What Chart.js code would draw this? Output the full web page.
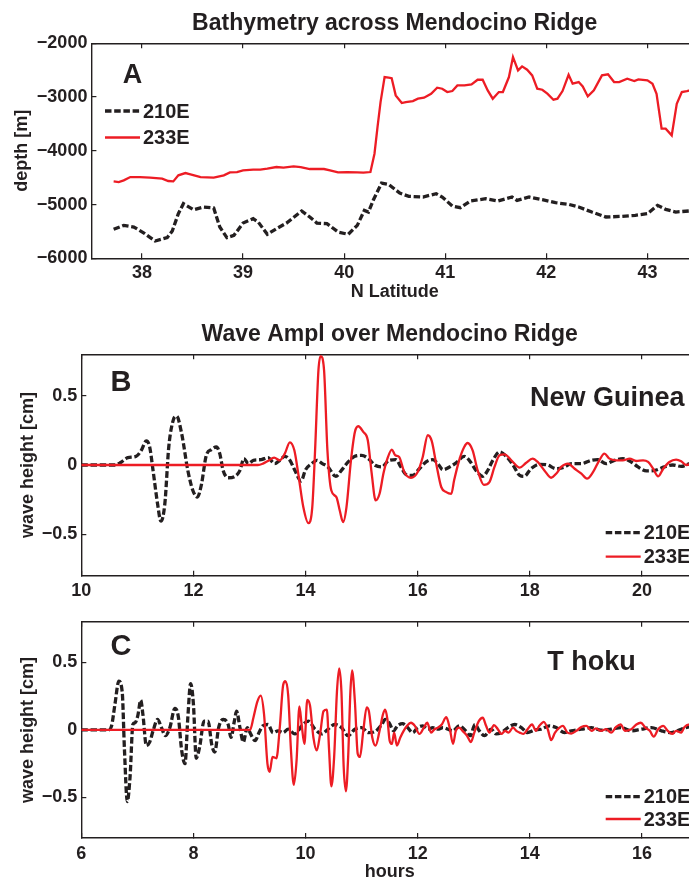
<!DOCTYPE html>
<html>
<head>
<meta charset="utf-8">
<script src="https://cdn.jsdelivr.net/npm/chart.js@4.4.1/dist/chart.umd.min.js"></script>
<style>
  html, body { margin: 0; padding: 0; background: #fff; overflow: hidden; width: 689px; height: 878px; }
  canvas { position: absolute; left: 0; }
</style>
</head>
<body>
<canvas id="chartA" width="700" height="305" style="top:0"></canvas>
<canvas id="chartB" width="700" height="297" style="top:305px"></canvas>
<canvas id="chartC" width="700" height="290" style="top:602px"></canvas>
<script>
// ---- panel A : bathymetry across the ridge ----
const latA210 = [37.72, 37.82, 37.92, 38.02, 38.13, 38.25, 38.30, 38.36, 38.41, 38.51, 38.61, 38.71, 38.77, 38.84, 38.91, 39.00, 39.10, 39.15, 39.24, 39.33, 39.43, 39.58, 39.66, 39.73, 39.83, 39.94, 40.04, 40.13, 40.20, 40.24, 40.29, 40.37, 40.44, 40.55, 40.64, 40.78, 40.91, 40.97, 41.07, 41.15, 41.25, 41.40, 41.52, 41.66, 41.71, 41.83, 41.96, 42.09, 42.22, 42.32, 42.45, 42.59, 42.75, 42.88, 43.00, 43.10, 43.18, 43.28, 43.41, 43.52];
const depthA210 = [-5461, -5387, -5418, -5530, -5678, -5616, -5492, -5170, -4984, -5096, -5046, -5065, -5418, -5616, -5573, -5344, -5263, -5325, -5554, -5449, -5344, -5120, -5232, -5344, -5356, -5511, -5554, -5387, -5108, -5139, -4910, -4600, -4625, -4786, -4848, -4860, -4798, -4860, -5027, -5058, -4934, -4891, -4934, -4860, -4922, -4860, -4910, -4965, -4996, -5046, -5139, -5232, -5220, -5201, -5170, -5015, -5089, -5139, -5120, -5110];
const latA233 = [37.72, 37.77, 37.82, 37.885, 37.98, 38.08, 38.20, 38.26, 38.31, 38.36, 38.43, 38.48, 38.58, 38.71, 38.81, 38.87, 38.94, 39.00, 39.10, 39.17, 39.24, 39.33, 39.40, 39.50, 39.57, 39.66, 39.80, 39.86, 39.94, 40.03, 40.13, 40.19, 40.26, 40.30, 40.33, 40.36, 40.40, 40.44, 40.47, 40.51, 40.57, 40.61, 40.68, 40.73, 40.79, 40.86, 40.92, 40.97, 41.02, 41.07, 41.12, 41.19, 41.26, 41.32, 41.37, 41.42, 41.47, 41.53, 41.57, 41.63, 41.67, 41.72, 41.76, 41.81, 41.86, 41.91, 41.96, 42.01, 42.07, 42.11, 42.16, 42.22, 42.26, 42.32, 42.36, 42.41, 42.47, 42.55, 42.61, 42.67, 42.72, 42.80, 42.87, 42.91, 43.00, 43.05, 43.09, 43.14, 43.18, 43.24, 43.29, 43.34, 43.39, 43.45, 43.52];
const depthA233 = [-4569, -4581, -4550, -4488, -4488, -4500, -4519, -4562, -4569, -4457, -4414, -4438, -4488, -4500, -4457, -4401, -4395, -4364, -4352, -4352, -4333, -4302, -4314, -4290, -4302, -4339, -4339, -4364, -4401, -4395, -4401, -4407, -4395, -4054, -3558, -3093, -2628, -2640, -2650, -2969, -3112, -3093, -3074, -3031, -3012, -2938, -2826, -2845, -2907, -2888, -2783, -2783, -2764, -2678, -2678, -2876, -3031, -2907, -2907, -2628, -2256, -2504, -2430, -2492, -2597, -2845, -2864, -2938, -3050, -3031, -2888, -2585, -2752, -2721, -2802, -2988, -2876, -2597, -2578, -2721, -2721, -2659, -2702, -2671, -2690, -2752, -2938, -3589, -3589, -3713, -3124, -2907, -2888, -2860, -2850];
const latTicks = [38, 39, 40, 41, 42, 43];
const depthTicks = [-6000, -5000, -4000, -3000, -2000];

// ---- panel B : New Guinea source ----
const hoursB210 = [10.0, 10.60, 10.71, 10.83, 10.98, 11.07, 11.16, 11.22, 11.28, 11.36, 11.42, 11.49, 11.56, 11.64, 11.70, 11.79, 11.90, 11.99, 12.07, 12.14, 12.23, 12.32, 12.41, 12.47, 12.53, 12.62, 12.74, 12.83, 12.90, 12.98, 13.07, 13.21, 13.33, 13.45, 13.54, 13.63, 13.72, 13.81, 13.92, 14.00, 14.11, 14.20, 14.30, 14.40, 14.54, 14.64, 14.76, 14.88, 15.00, 15.12, 15.24, 15.36, 15.49, 15.61, 15.70, 15.79, 15.91, 16.03, 16.15, 16.27, 16.36, 16.45, 16.57, 16.68, 16.83, 16.92, 17.04, 17.16, 17.25, 17.34, 17.46, 17.58, 17.70, 17.82, 17.90, 18.02, 18.17, 18.32, 18.47, 18.62, 18.74, 18.92, 19.10, 19.21, 19.36, 19.51, 19.66, 19.81, 19.93, 20.08, 20.23, 20.40, 20.55, 20.70, 20.85, 21.0];
const ampB210 = [0, 0, 0.02, 0.053, 0.063, 0.106, 0.174, 0.13, -0.04, -0.28, -0.406, -0.28, 0.13, 0.324, 0.353, 0.227, -0.039, -0.184, -0.232, -0.147, 0.07, 0.111, 0.13, 0.082, -0.039, -0.092, -0.082, -0.039, 0.046, 0.01, 0.034, 0.039, 0.053, 0.01, 0.034, 0.063, 0.034, -0.039, -0.116, -0.034, 0.01, 0.034, 0.01, -0.014, -0.082, -0.039, 0.022, 0.063, 0.07, 0.046, -0.002, -0.014, 0.034, 0.039, -0.014, -0.068, -0.075, -0.027, 0.022, 0.039, 0.01, -0.034, -0.014, 0.014, 0.063, 0.034, -0.039, -0.082, -0.039, 0.034, 0.094, 0.063, 0, -0.075, -0.082, -0.027, 0.005, 0, -0.027, -0.014, 0.01, 0.01, 0.034, 0.039, 0.01, 0.034, 0.046, 0.022, -0.014, -0.043, -0.039, -0.014, 0, -0.01, 0.01, 0.02];
const hoursB233 = [10.0, 13.15, 13.24, 13.33, 13.44, 13.54, 13.63, 13.72, 13.80, 13.87, 13.96, 14.05, 14.12, 14.17, 14.23, 14.27, 14.33, 14.39, 14.46, 14.55, 14.61, 14.67, 14.73, 14.81, 14.88, 14.94, 15.03, 15.11, 15.18, 15.25, 15.32, 15.39, 15.46, 15.54, 15.60, 15.67, 15.76, 15.88, 16.00, 16.09, 16.18, 16.25, 16.33, 16.42, 16.51, 16.60, 16.65, 16.74, 16.83, 16.89, 16.98, 17.07, 17.18, 17.28, 17.37, 17.46, 17.55, 17.67, 17.82, 17.93, 18.05, 18.14, 18.26, 18.38, 18.47, 18.56, 18.68, 18.80, 18.92, 19.02, 19.13, 19.24, 19.33, 19.42, 19.54, 19.66, 19.78, 19.90, 20.02, 20.11, 20.20, 20.29, 20.38, 20.49, 20.61, 20.70, 20.79, 20.90, 21.0];
const ampB233 = [0, 0, 0.01, 0.029, 0.053, 0.034, 0.082, 0.164, 0.106, -0.063, -0.304, -0.42, -0.304, 0.106, 0.686, 0.787, 0.686, 0.106, -0.184, -0.232, -0.329, -0.413, -0.304, 0.034, 0.239, 0.28, 0.239, 0.179, -0.063, -0.256, -0.208, -0.06, 0.046, 0.111, 0.07, 0.058, -0.05, -0.092, -0.05, 0.058, 0.215, 0.174, 0.01, -0.159, -0.196, -0.208, -0.111, 0.034, 0.13, 0.159, 0.106, -0.039, -0.143, -0.123, -0.014, 0.07, 0.077, 0.034, -0.019, 0.014, 0.046, 0.022, -0.039, -0.092, -0.063, -0.014, 0.01, -0.027, -0.063, -0.099, -0.05, 0.034, 0.082, 0.046, 0.034, 0.034, 0.046, 0.029, 0.034, 0.022, -0.027, -0.082, -0.027, 0.022, 0.039, 0.027, 0, 0.01, 0.02];
const hourTicksB = [10, 12, 14, 16, 18, 20];

// ---- panel C : Tohoku source ----
const hoursC210 = [6.0, 6.48, 6.54, 6.60, 6.67, 6.73, 6.77, 6.82, 6.87, 6.92, 6.96, 7.01, 7.06, 7.10, 7.16, 7.22, 7.28, 7.36, 7.43, 7.50, 7.58, 7.67, 7.73, 7.79, 7.85, 7.90, 7.95, 8.00, 8.05, 8.11, 8.19, 8.26, 8.33, 8.38, 8.45, 8.53, 8.62, 8.67, 8.73, 8.77, 8.83, 8.89, 8.96, 9.02, 9.10, 9.17, 9.24, 9.33, 9.42, 9.51, 9.60, 9.69, 9.81, 9.93, 10.05, 10.17, 10.29, 10.40, 10.52, 10.64, 10.76, 10.88, 11.00, 11.12, 11.24, 11.36, 11.42, 11.49, 11.57, 11.64, 11.73, 11.82, 11.91, 12.00, 12.09, 12.18, 12.27, 12.36, 12.45, 12.54, 12.63, 12.74, 12.86, 12.94, 13.02, 13.10, 13.19, 13.31, 13.40, 13.49, 13.61, 13.73, 13.85, 13.96, 14.08, 14.20, 14.35, 14.47, 14.62, 14.74, 14.92, 15.10, 15.27, 15.45, 15.63, 15.81, 15.99, 16.17, 16.35, 16.52, 16.70, 16.85, 17.0];
const ampC210 = [0, 0, 0.03, 0.19, 0.36, 0.28, -0.15, -0.53, -0.345, 0.04, 0.053, 0.11, 0.22, 0.11, -0.116, -0.09, -0.007, 0.077, 0.017, -0.043, 0.017, 0.16, 0.1, -0.15, -0.25, 0.09, 0.343, 0.19, -0.21, -0.128, 0.065, 0.065, -0.116, -0.164, 0.017, 0.077, 0.04, -0.056, 0.065, 0.138, 0.017, -0.09, 0.017, -0.03, -0.08, -0.02, 0.03, 0.04, -0.02, -0.007, -0.02, 0.005, -0.03, 0.03, 0.065, 0.005, -0.03, 0.005, 0.04, 0.017, -0.043, 0.005, 0.017, -0.02, -0.012, 0.04, 0.077, 0.053, -0.007, 0.03, 0.046, 0.017, -0.02, 0.017, 0.03, 0.005, 0.017, 0.005, 0.017, 0.005, -0.007, 0.03, -0.007, -0.043, 0.04, -0.007, -0.043, 0.005, -0.03, -0.02, 0.017, 0.04, 0.017, -0.02, -0.002, 0.005, 0.03, 0.017, -0.02, -0.007, 0.005, 0.017, -0.002, 0.005, 0.017, -0.007, 0.005, 0.017, -0.007, -0.02, 0.005, 0.022, 0.01];
const hoursC233 = [6.0, 9.01, 9.07, 9.14, 9.20, 9.26, 9.32, 9.36, 9.41, 9.48, 9.54, 9.60, 9.64, 9.69, 9.74, 9.79, 9.84, 9.89, 9.93, 9.98, 10.03, 10.08, 10.14, 10.20, 10.26, 10.32, 10.38, 10.42, 10.46, 10.51, 10.56, 10.60, 10.64, 10.68, 10.72, 10.76, 10.80, 10.83, 10.88, 10.93, 10.97, 11.03, 11.09, 11.13, 11.19, 11.25, 11.32, 11.38, 11.42, 11.46, 11.50, 11.54, 11.58, 11.63, 11.69, 11.75, 11.81, 11.88, 11.95, 12.03, 12.11, 12.17, 12.24, 12.30, 12.36, 12.43, 12.51, 12.57, 12.63, 12.68, 12.74, 12.80, 12.88, 12.95, 13.01, 13.09, 13.16, 13.22, 13.28, 13.36, 13.43, 13.49, 13.56, 13.62, 13.70, 13.76, 13.82, 13.89, 13.96, 14.04, 14.11, 14.17, 14.25, 14.32, 14.38, 14.45, 14.53, 14.59, 14.67, 14.74, 14.83, 14.92, 15.01, 15.10, 15.18, 15.27, 15.36, 15.45, 15.54, 15.62, 15.70, 15.81, 15.90, 15.98, 16.06, 16.14, 16.21, 16.29, 16.38, 16.46, 16.54, 16.61, 16.70, 16.76, 16.85, 17.0];
const ampC233 = [0, 0, 0.09, 0.21, 0.254, 0.114, -0.25, -0.31, -0.2, -0.21, 0.017, 0.33, 0.36, 0.258, -0.152, -0.406, -0.225, 0.174, 0.04, -0.104, 0.222, 0.18, -0.056, -0.152, -0.03, 0.138, 0.15, -0.152, -0.418, -0.2, 0.283, 0.456, 0.283, -0.273, -0.454, -0.2, 0.283, 0.44, 0.21, -0.176, -0.2, -0.007, 0.167, 0.138, -0.056, -0.116, -0.007, 0.114, 0.15, 0.08, -0.08, -0.104, -0.02, -0.116, -0.056, -0.007, 0.03, 0.053, 0.03, -0.03, 0.017, 0.053, -0.02, 0.005, 0.017, 0.04, 0.094, 0.017, -0.104, -0.007, 0.017, -0.007, -0.043, -0.09, -0.02, 0.065, 0.09, 0.03, -0.02, 0.036, 0.005, -0.03, -0.007, -0.02, 0.017, -0.007, -0.02, -0.03, 0.005, 0.04, -0.007, 0.03, 0.06, 0.005, -0.075, -0.02, 0.017, 0.03, -0.02, -0.027, -0.007, 0.022, 0.03, -0.007, 0.012, -0.007, 0.005, -0.02, 0.022, 0.04, -0.007, 0.005, 0.04, 0.053, 0.017, -0.007, -0.05, 0.005, 0.03, -0.007, -0.03, -0.007, -0.02, 0.022, 0.04, 0.03];
const hourTicksC = [6, 8, 10, 12, 14, 16];
const ampTicks = [-0.5, 0, 0.5];

const seriesNames = ['210E', '233E'];

const INK = '#231f20';
const RED = '#ed1c24';
const FONT = '"Liberation Sans", Arial, Helvetica, sans-serif';

Chart.defaults.font.family = FONT;
Chart.defaults.font.weight = 'bold';
Chart.defaults.color = INK;
Chart.defaults.animation = false;

const pts = (xs, ys) => xs.map((x, i) => ({ x: x, y: ys[i] }));
const minusSign = v => String(v).replace('-', '\u2212');
const fixTicks = values => scale => { scale.ticks = values.map(v => ({ value: v })); };

function blackLine(xs, ys, smooth) {
  return { label: seriesNames[0], data: pts(xs, ys), borderColor: INK, borderWidth: 3.3,
    borderDash: [6.5, 2.7], pointRadius: 0, order: 1,
    cubicInterpolationMode: smooth ? 'monotone' : 'default' };
}
function redLine(xs, ys, smooth) {
  return { label: seriesNames[1], data: pts(xs, ys), borderColor: RED, borderWidth: 2.3,
    pointRadius: 0, order: 0,
    cubicInterpolationMode: smooth ? 'monotone' : 'default' };
}

// matlab style box: inward ticks on bottom, top and left
function boxScales(c) {
  const grid = { drawOnChartArea: false, tickLength: -5, color: INK, lineWidth: 1.2 };
  const border = { color: INK, width: 1.4 };
  return {
    x: {
      type: 'linear', position: 'bottom', min: c.xMin, max: c.xMax,
      afterBuildTicks: fixTicks(c.xTicks),
      afterFit: s => { s.height = c.xHeight; },
      ticks: { font: { size: 18 }, padding: c.xPad, autoSkip: false, maxRotation: 0, callback: minusSign },
      grid: grid, border: border,
      title: c.xTitle ? { display: true, text: c.xTitle, font: { size: 18 }, padding: { top: 0, bottom: c.xTitlePad } } : { display: false }
    },
    xTop: {
      type: 'linear', position: 'top', min: c.xMin, max: c.xMax,
      afterBuildTicks: fixTicks(c.xTicks),
      afterFit: s => { s.height = 0; },
      ticks: { display: false },
      grid: grid, border: border
    },
    y: {
      type: 'linear', position: 'left', min: c.yMin, max: c.yMax,
      afterBuildTicks: fixTicks(c.yTicks),
      afterFit: s => { s.width = c.yWidth; },
      ticks: { font: { size: 18 }, padding: 9, callback: minusSign },
      grid: grid, border: border,
      title: { display: true, text: c.yTitle, font: { size: 18 }, padding: { top: c.yTitlePad, bottom: 0 } }
    }
  };
}

// panel letter, source name and the small legend inside the axes
const panelNotes = {
  id: 'panelNotes',
  afterDatasetsDraw(chart, args, o) {
    const ctx = chart.ctx;
    ctx.save();
    ctx.fillStyle = INK;
    ctx.textBaseline = 'middle';
    ctx.textAlign = 'center';
    ctx.font = 'bold ' + o.letterSize + 'px ' + FONT;
    ctx.fillText(o.letter, o.letterX, o.letterY);
    ctx.textAlign = 'left';
    if (o.note) {
      ctx.font = 'bold 27px ' + FONT;
      ctx.fillText(o.note, o.noteX, o.noteY);
    }
    ctx.font = 'bold 20px ' + FONT;
    chart.data.datasets.forEach((ds, i) => {
      const y = o.legendY[i];
      ctx.strokeStyle = ds.borderColor;
      ctx.lineWidth = ds.borderWidth;
      ctx.setLineDash(ds.borderDash || []);
      ctx.beginPath();
      ctx.moveTo(o.legendX, y);
      ctx.lineTo(o.legendX + 35, y);
      ctx.stroke();
      ctx.setLineDash([]);
      ctx.fillText(ds.label, o.legendX + 38, y + 1);
    });
    ctx.restore();
  }
};

function makeChart(id, datasets, scales, title, layoutPad, notes) {
  return new Chart(document.getElementById(id), {
    type: 'line',
    data: { datasets: datasets },
    options: {
      responsive: false,
      maintainAspectRatio: false,
      devicePixelRatio: 1,
      layout: { padding: layoutPad },
      scales: scales,
      plugins: {
        legend: { display: false },
        tooltip: { enabled: false },
        title: title ? { display: true, text: title, fullSize: false, color: INK,
          font: { size: 23, weight: 'bold' }, padding: { top: 10.2, bottom: 5.5 } } : { display: false },
        panelNotes: notes
      }
    },
    plugins: [panelNotes]
  });
}

makeChart('chartA',
  [blackLine(latA210, depthA210, false), redLine(latA233, depthA233, false)],
  boxScales({ xMin: 37.5, xMax: 43.5, xTicks: latTicks, xTitle: 'N Latitude', xHeight: 46.7, xPad: 9, xTitlePad: 2.5,
    yMin: -6000, yMax: -2000, yTicks: depthTicks, yTitle: 'depth [m]', yWidth: 91.4, yTitlePad: 11.2 }),
  'Bathymetry across Mendocino Ridge',
  { left: 0, right: 2, top: 0, bottom: 0 },
  { letter: 'A', letterSize: 27, letterX: 132.5, letterY: 76, legendX: 105, legendY: [111, 137.5] });

makeChart('chartB',
  [blackLine(hoursB210, ampB210, true), redLine(hoursB233, ampB233, true)],
  boxScales({ xMin: 10, xMax: 21, xTicks: hourTicksB, xTitle: null, xHeight: 26.3, xPad: 9.5,
    yMin: -0.8, yMax: 0.8, yTicks: ampTicks, yTitle: 'wave height [cm]', yWidth: 81.3, yTitlePad: 17.5 }),
  'Wave Ampl over Mendocino Ridge',
  { left: 0, right: 2, top: 6, bottom: 0 },
  { letter: 'B', letterSize: 29, letterX: 121, letterY: 77.5, note: 'New Guinea', noteX: 530, noteY: 94,
    legendX: 605.7, legendY: [227.7, 251.7] });

makeChart('chartC',
  [blackLine(hoursC210, ampC210, true), redLine(hoursC233, ampC233, true)],
  boxScales({ xMin: 6, xMax: 17, xTicks: hourTicksC, xTitle: 'hours', xHeight: 54, xPad: 10.2, xTitlePad: 9.5,
    yMin: -0.8, yMax: 0.8, yTicks: ampTicks, yTitle: 'wave height [cm]', yWidth: 81.3, yTitlePad: 17.5 }),
  null,
  { left: 0, right: 2, top: 15.3, bottom: 0 },
  { letter: 'C', letterSize: 29, letterX: 121, letterY: 45, note: 'T hoku', noteX: 547.3, noteY: 60.5,
    legendX: 605.7, legendY: [194.7, 217] });
</script>
</body>
</html>
